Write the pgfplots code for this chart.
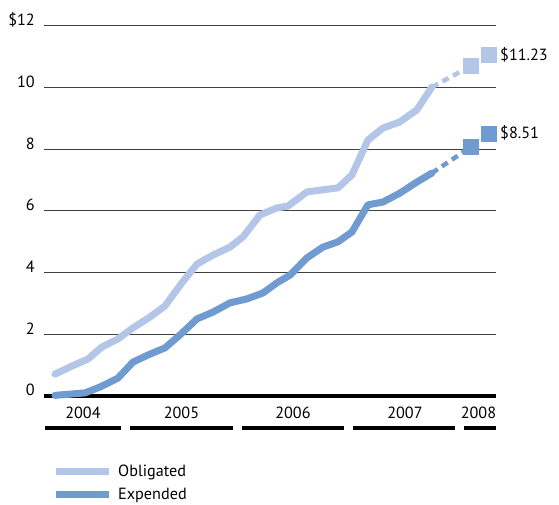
\documentclass[border=0pt]{standalone}
\usepackage{pgfplots}
\pgfplotsset{compat=1.18}
\usepackage{pgfplotstable}
\usepackage{fontspec}
\setmainfont{PT Sans}
\definecolor{oblig}{RGB}{179,198,231}
\definecolor{expend}{RGB}{112,155,208}

% months counted from Jan 2004, billions of dollars
\pgfplotstableread{
m v
4.40 0.71
6.23 0.97
7.96 1.20
9.47 1.59
11.19 1.85
12.81 2.21
14.64 2.56
16.26 2.92
18.09 3.67
19.71 4.28
21.43 4.57
23.27 4.83
24.67 5.16
26.50 5.87
28.33 6.10
29.52 6.16
31.57 6.62
34.91 6.75
36.42 7.17
38.14 8.30
39.76 8.69
41.59 8.89
43.42 9.28
45.04 10.02
}\obligated

\pgfplotstableread{
m v
4.40 0.02
7.63 0.10
9.25 0.29
11.19 0.58
12.81 1.10
14.43 1.33
16.26 1.56
17.88 1.98
19.71 2.50
21.43 2.72
23.27 3.02
25.10 3.15
26.82 3.34
28.33 3.67
29.74 3.92
31.57 4.48
33.29 4.83
34.91 5.00
36.42 5.32
38.14 6.20
39.76 6.29
41.59 6.58
43.42 6.94
45.04 7.23
}\expended

\begin{document}
\begin{tikzpicture}[x=1pt,y=1pt]
\useasboundingbox (-44,-109) rectangle (515,396);
\begin{axis}[
  at={(0,0)}, anchor=south west,
  scale only axis, width=452pt, height=370pt,
  xmin=3.22, xmax=51.95, ymin=0, ymax=12,
  axis line style={draw=none},
  xtick=\empty,
  ytick={0,2,...,12},
  yticklabels={0,2,4,6,8,10,\$12},
  major tick length=0pt,
  ymajorgrids, grid style={black!75, line width=1pt},
  yticklabel style={anchor=base east, inner sep=0pt, xshift=-9pt},
  extra y ticks={0}, extra y tick labels={},
  extra y tick style={grid style={black, line width=3.5pt}},
  clip=false,
  font=\fontsize{16.2}{19}\selectfont,
  legend style={draw=none, fill=none, at={(0.0177,-0.185)}, anchor=north west,
    inner sep=0pt, row sep=10pt, column sep=6pt,
    nodes={inner sep=0pt}, font=\fontsize{16.2}{19}\selectfont},
  legend cell align=left,
  legend image code/.code={\draw[#1, line width=7pt, line cap=butt] (0pt,0pt) -- (53pt,0pt);},
]
\addplot[oblig, line width=7pt, line cap=round, line join=round] table[x=m, y=v] {\obligated};
\addlegendentry{Obligated}
\addplot[expend, line width=7pt, line cap=round, line join=round] table[x=m, y=v] {\expended};
\addlegendentry{Expended}

% projected values
\addplot[oblig, line width=4.5pt, dash pattern=on 7pt off 5pt, forget plot] coordinates {(45.04,10.02) (49.25,10.70)};
\addplot[expend, line width=4.5pt, dash pattern=on 7pt off 5pt, forget plot] coordinates {(45.04,7.23) (49.25,8.08)};
\addplot[only marks, mark=square*, mark size=7.5pt, oblig, forget plot] coordinates {(49.25,10.70) (51.19,11.06)};
\addplot[only marks, mark=square*, mark size=7.5pt, expend, forget plot] coordinates {(49.25,8.08) (51.19,8.50)};

\node[anchor=west, inner sep=0pt] at (axis cs:52.38,11.06) {\$11.23};
\node[anchor=west, inner sep=0pt] at (axis cs:52.38,8.53) {\$8.51};

% year labels and bars
\node[inner sep=0pt] at ([yshift=-17pt]axis cs:7.42,0) {2004};
\node[inner sep=0pt] at ([yshift=-17pt]axis cs:18.04,0) {2005};
\node[inner sep=0pt] at ([yshift=-17pt]axis cs:30.06,0) {2006};
\node[inner sep=0pt] at ([yshift=-17pt]axis cs:42.13,0) {2007};
\node[inner sep=0pt] at ([yshift=-17pt]axis cs:50.06,0) {2008};
\draw[black, line width=3.5pt] ([yshift=-32pt]axis cs:3.32,0) -- ([yshift=-32pt]axis cs:11.51,0);
\draw[black, line width=3.5pt] ([yshift=-32pt]axis cs:12.49,0) -- ([yshift=-32pt]axis cs:23.59,0);
\draw[black, line width=3.5pt] ([yshift=-32pt]axis cs:24.56,0) -- ([yshift=-32pt]axis cs:35.56,0);
\draw[black, line width=3.5pt] ([yshift=-32pt]axis cs:36.53,0) -- ([yshift=-32pt]axis cs:47.53,0);
\draw[black, line width=3.5pt] ([yshift=-32pt]axis cs:48.50,0) -- ([yshift=-32pt]axis cs:51.95,0);
\end{axis}
\end{tikzpicture}
\end{document}
